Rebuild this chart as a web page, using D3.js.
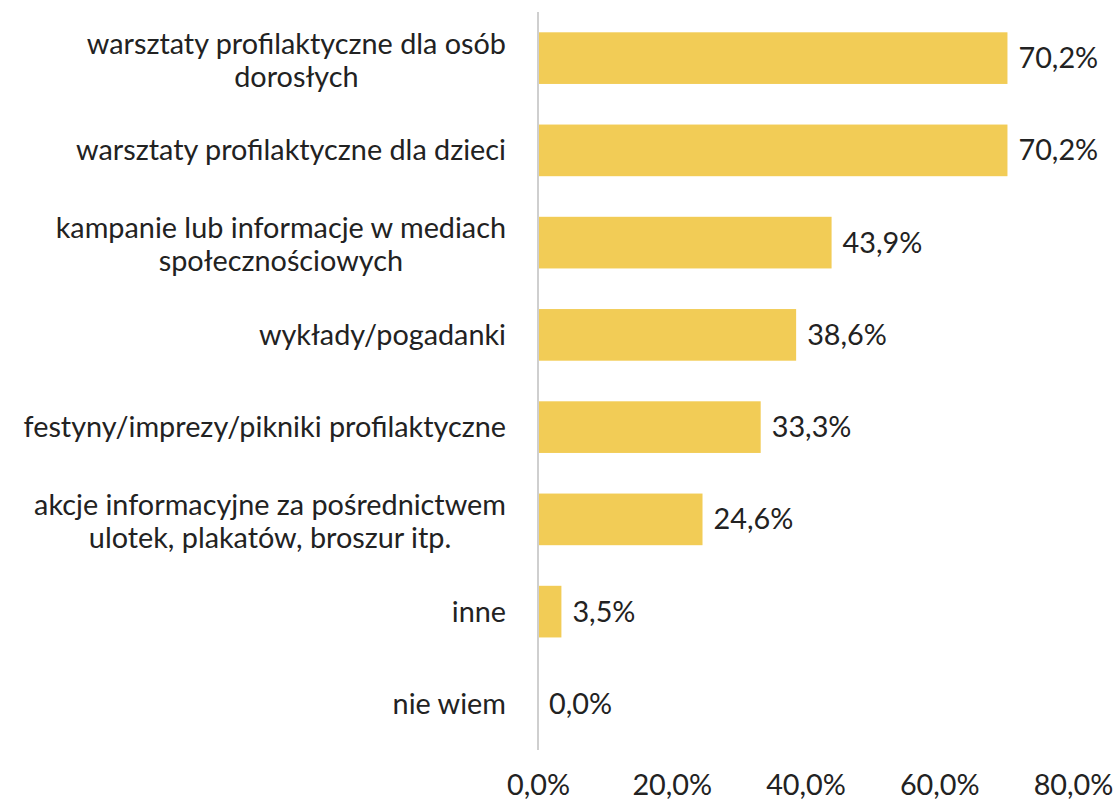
<!DOCTYPE html>
<html>
<head>
<meta charset="utf-8">
<script src="https://cdn.jsdelivr.net/npm/d3@7"></script>
<style>
  body { margin: 0; background: #fff; }
  text { font-family: Lato, "Open Sans", sans-serif; fill: #222; }
</style>
</head>
<body>
<div id="chart"></div>
<script>
// categories (multi-line labels split on |)
const categories = [
  'warsztaty profilaktyczne dla osób|dorosłych',
  'warsztaty profilaktyczne dla dzieci',
  'kampanie lub informacje w mediach|społecznościowych',
  'wykłady/pogadanki',
  'festyny/imprezy/pikniki profilaktyczne',
  'akcje informacyjne za pośrednictwem|ulotek, plakatów, broszur itp.',
  'inne',
  'nie wiem'
];
const values = [70.2, 70.2, 43.9, 38.6, 33.3, 24.6, 3.5, 0.0];
const tickValues = [0, 20, 40, 60, 80];

const width = 1118, height = 803;
const fs = 28.8;
const fmt = v => v.toFixed(1).replace('.', ',') + '%';

const svg = d3.select('#chart').append('svg')
  .attr('width', width)
  .attr('height', height);

const x = d3.scaleLinear().domain([0, 80]).range([538, 1073]);
const y = d3.scaleBand()
  .domain(categories)
  .range([12, 750])
  .paddingInner(0.44)
  .paddingOuter(0.22);

// bars
svg.append('g')
  .selectAll('rect')
  .data(values)
  .join('rect')
  .attr('x', x(0) + 1)
  .attr('y', (d, i) => y(categories[i]))
  .attr('width', d => Math.max(0, x(d) - x(0) - 1))
  .attr('height', y.bandwidth())
  .attr('fill', '#F2CC56');

// vertical axis line
svg.append('line')
  .attr('x1', x(0)).attr('x2', x(0))
  .attr('y1', 12).attr('y2', 750)
  .attr('stroke', '#cfcfcf')
  .attr('stroke-width', 2);

// value labels
svg.append('g')
  .selectAll('text')
  .data(values)
  .join('text')
  .attr('x', d => x(d) + 11)
  .attr('y', (d, i) => y(categories[i]) + y.bandwidth() / 2)
  .attr('dy', '0.35em')
  .attr('font-size', fs)
  .text(d => fmt(d));

// category labels: block right-aligned at 506, lines centred within block
const lineH = 33;
const labelRight = 506;
const labels = svg.append('g')
  .selectAll('text')
  .data(categories)
  .join('text')
  .attr('text-anchor', 'middle')
  .attr('font-size', fs)
  .attr('y', d => y(d) + y.bandwidth() / 2 + (d.includes('|') ? 2 : 0));

labels.each(function (d) {
  const lines = d.split('|');
  const t = d3.select(this);
  const spans = lines.map((l, i) => t.append('tspan')
    .attr('dy', i === 0 ? `${0.35 - (lines.length - 1) * lineH / 2 / fs}em` : lineH)
    .text(l));
  const maxW = d3.max(spans, s => s.node().getComputedTextLength());
  spans.forEach(s => s.attr('x', labelRight - maxW / 2));
});

// x tick labels
const xAxis = d3.axisBottom(x)
  .tickValues(tickValues)
  .tickSize(0)
  .tickFormat(d => fmt(d));

svg.append('g')
  .attr('transform', 'translate(0,772)')
  .call(xAxis)
  .call(g => g.select('.domain').remove())
  .call(g => g.selectAll('text')
    .attr('font-size', fs)
    .attr('font-family', 'Lato, "Open Sans", sans-serif')
    .attr('fill', '#222'));
</script>
</body>
</html>
